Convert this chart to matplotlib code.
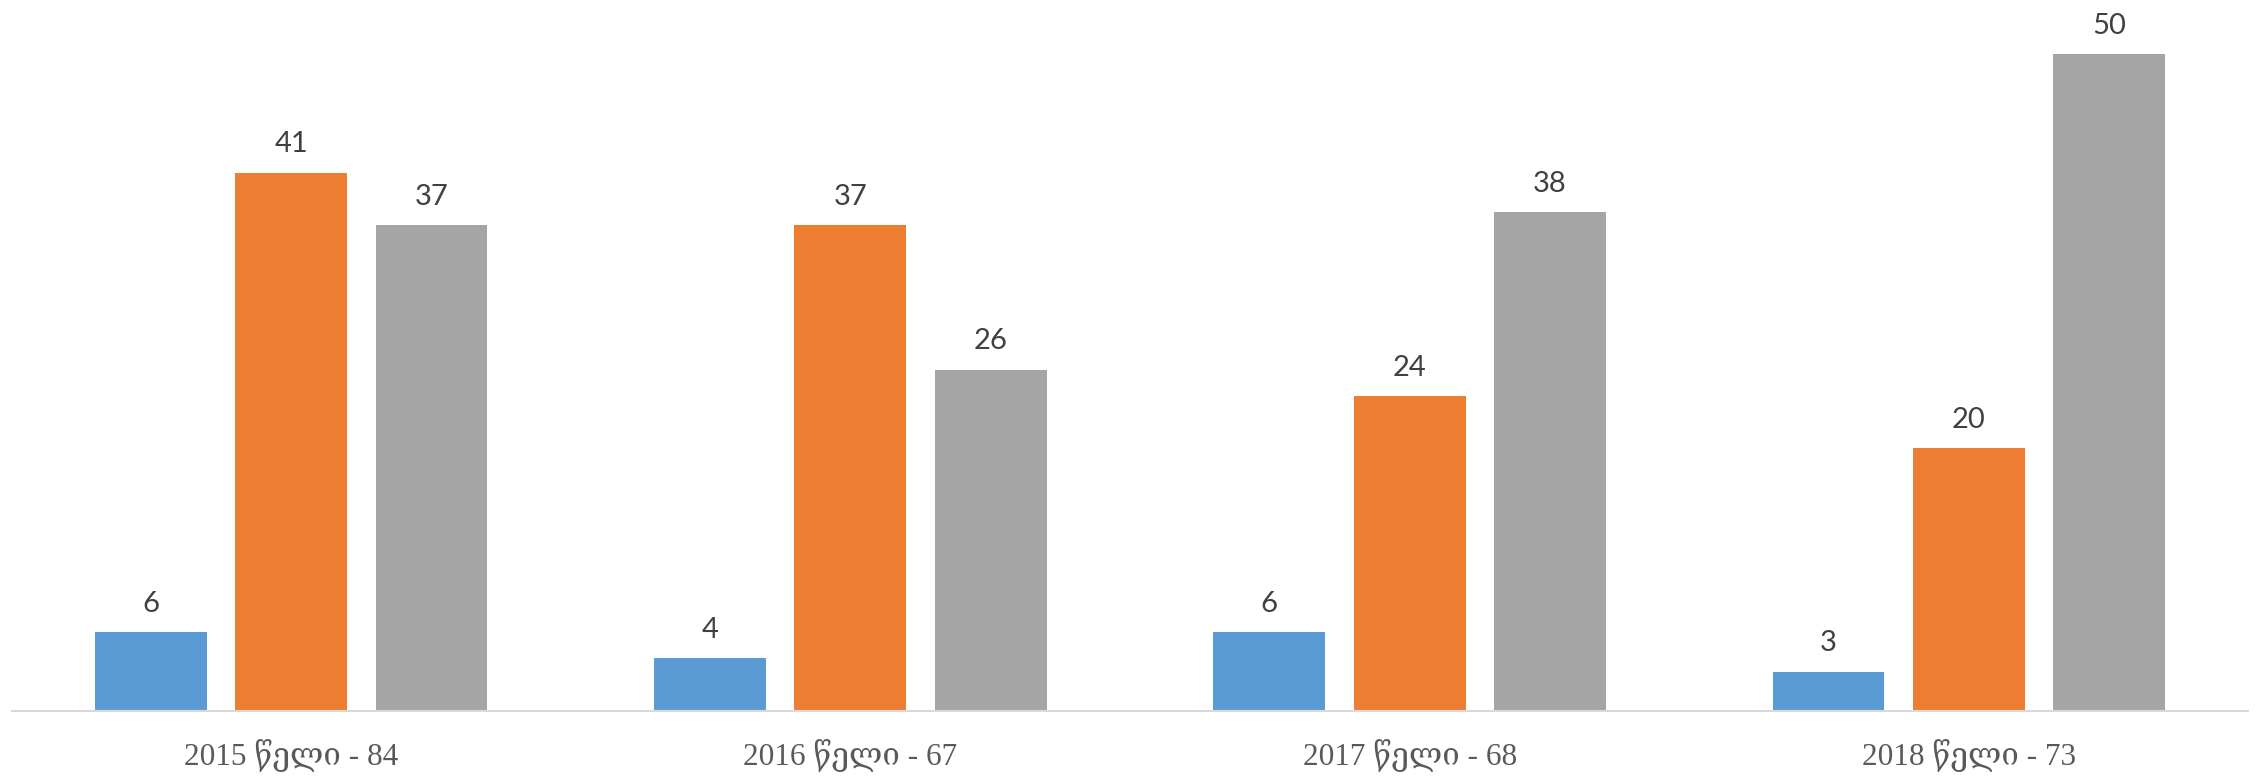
import numpy as np
import matplotlib
matplotlib.use("Agg")
import matplotlib.pyplot as plt

categories = ["2015 წელი - 84", "2016 წელი - 67", "2017 წელი - 68", "2018 წელი - 73"]
series_a = [6, 4, 6, 3]
series_b = [41, 37, 24, 20]
series_c = [37, 26, 38, 50]
colors = ["#5B9BD5", "#ED7D31", "#A5A5A5"]

fig = plt.figure(figsize=(22.57, 7.76), dpi=100)
ax = fig.add_axes([0.0051, 0.0838, 0.9911, 0.9162])

x = np.arange(len(categories))
width = 0.2
step = 0.251

for i, (vals, col) in enumerate(zip([series_a, series_b, series_c], colors)):
    pos = x + (i - 1) * step
    ax.bar(pos, vals, width=width, color=col, zorder=2)
    for px, v in zip(pos, vals):
        ax.annotate(str(v), (px, v), xytext=(0, 11), textcoords="offset points",
                    ha="center", va="bottom", fontsize=21, color="#404040",
                    family=["Lato", "DejaVu Sans"])

ax.set_xlim(-0.5, 3.5)
ax.set_ylim(0, 54.15)
ax.set_xticks(x)
ax.set_xticklabels(categories, fontsize=22.5, color="#595959",
                   family=["Liberation Serif", "DejaVu Serif"])
ax.tick_params(axis="x", length=0, pad=20)
ax.set_yticks([])
for s in ["top", "left", "right"]:
    ax.spines[s].set_visible(False)
ax.spines["bottom"].set_color("#D9D9D9")
ax.spines["bottom"].set_linewidth(1.5)

fig.savefig("out.png", dpi=100)
